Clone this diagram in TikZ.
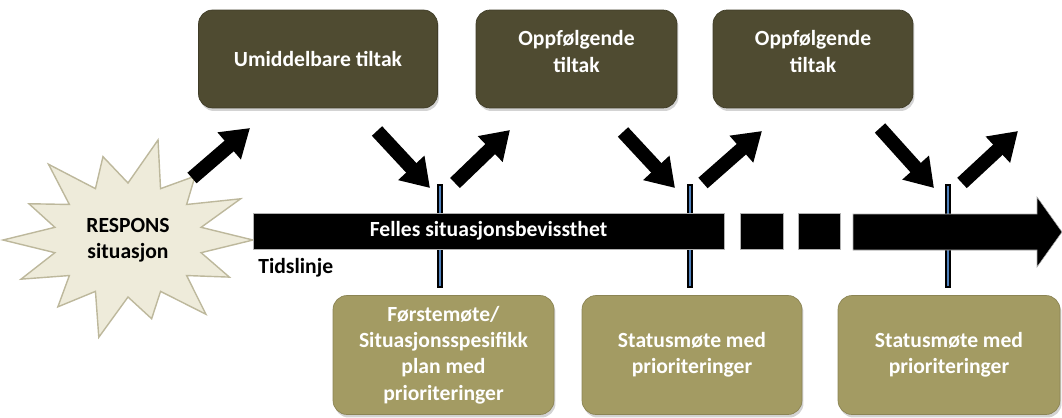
\documentclass[tikz,border=0pt]{standalone}
\usepackage{fontspec}
\setmainfont{Carlito}
\usepackage{tikz}
\usetikzlibrary{arrows.meta,positioning,shadows}
\definecolor{olivedark}{HTML}{4F4B31}
\definecolor{olivelight}{HTML}{A39B63}
\definecolor{starfill}{HTML}{EEEBDA}
\definecolor{starline}{HTML}{BDB89C}
\definecolor{tickblue}{HTML}{4F81BD}
\tikzset{
  tbox/.style={draw=olivedark!80!black,fill=olivedark,text=white,rounded corners=8pt,align=center,inner sep=3pt,
    minimum height=1.96cm,drop shadow={opacity=0.35,shadow xshift=0.03cm,shadow yshift=-0.06cm}},
  bbox/.style={draw=olivelight!85!black,fill=olivelight,text=white,rounded corners=8pt,align=center,inner sep=3pt,
    minimum height=2.38cm,drop shadow={opacity=0.35,shadow xshift=0.03cm,shadow yshift=-0.06cm}},
  tlbar/.style={fill=black,draw=gray!60,line width=0.3pt,inner sep=0pt,minimum height=0.72cm},
  tick/.style={draw=black,fill=tickblue,line width=0.6pt,inner sep=0pt,minimum width=0.08cm,minimum height=2.04cm},
  barr/.style={-{Triangle[length=0.55cm,width=0.68cm]},line width=0.28cm,draw=black},
  starbody/.style={fill=starfill,draw=starline,line width=0.8pt}
}

\begin{document}
\begin{tikzpicture}[x=0.02cm,y=-0.02cm,font=\fontsize{12.3}{15}\selectfont\bfseries]
  \useasboundingbox (0,0) rectangle (1062,417);
  % star, 14 points of uneven length
  \path[starbody] (253,240) \foreach \j/\f in {1/0.9,2/1.0,3/0.85,4/1.05,5/0.9,6/0.95,7/1.0,8/0.88,9/1.02,10/0.9,11/1.08,12/0.86,13/1.0} {
      -- ({128+125*0.6*cos((2*\j-1)*180/14)},{240+95*0.6*sin((2*\j-1)*180/14)})
      -- ({128+125*\f*cos(\j*360/14)},{240+95*\f*sin(\j*360/14)}) }
      -- ({128+125*0.6*cos(27*180/14)},{240+95*0.6*sin(27*180/14)}) -- cycle;
  \node[align=center] (respons) at (128,240) {RESPONS\\situasjon};
  % boxes above and below the time line
  \node[tbox,minimum width=4.78cm] (strakstiltak) at (318,59) {Umiddelbare tiltak};
  \node[tbox,minimum width=4.02cm,text depth=0.3cm] (oppf1) at (576.5,59) {Oppfølgende\\tiltak};
  \node[tbox,minimum width=4.00cm,text depth=0.3cm] (oppf2) at (813,59) {Oppfølgende\\tiltak};
  \node[bbox,minimum width=4.42cm] (forste) at (443.5,355) {Førstemøte/\\Situasjonsspesifikk\\plan med\\prioriteringer};
  \node[bbox,minimum width=4.40cm] (status1) at (692,355) {Statusmøte med\\prioriteringer};
  \node[bbox,minimum width=4.44cm] (status2) at (949,355) {Statusmøte med\\prioriteringer};
  % meeting marks, behind the time line
  \node[tick] (t1) at (440,236) {};
  \node[tick] (t2) at (690,236) {};
  \node[tick] (t3) at (948,236) {};
  % time line
  \node[tlbar,minimum width=9.42cm,text=white] (felles) at (488.5,231) {Felles situasjonsbevissthet};
  \node[tlbar,minimum width=0.86cm] (dash1) at (761.5,231) {};
  \node[tlbar,minimum width=0.84cm] (dash2) at (819,231) {};
  \fill[draw=gray!60,line width=0.3pt] (853,214) -- (1037,214) -- (1037,197) -- (1062,232) -- (1037,267) -- (1037,250) -- (853,250) -- cycle;
  \node[anchor=west,inner sep=0pt] (tidslinje) at (258,268) {Tidslinje};
  % arrow ends
  \coordinate (a0s) at (192,178); \coordinate (a0e) at (250,128);
  \coordinate (a1s) at (377,131); \coordinate (a1e) at (430,188);
  \coordinate (a2s) at (455,183); \coordinate (a2e) at (510,130);
  \coordinate (a3s) at (623,132); \coordinate (a3e) at (675,188);
  \coordinate (a4s) at (703,183); \coordinate (a4e) at (762,131);
  \coordinate (a5s) at (880,128); \coordinate (a5e) at (934,188);
  \coordinate (a6s) at (962,183); \coordinate (a6e) at (1018,131);
  \foreach \i in {0,...,6} {
    \draw[barr] (a\i s) -- (a\i e);
  }
\end{tikzpicture}
\end{document}
